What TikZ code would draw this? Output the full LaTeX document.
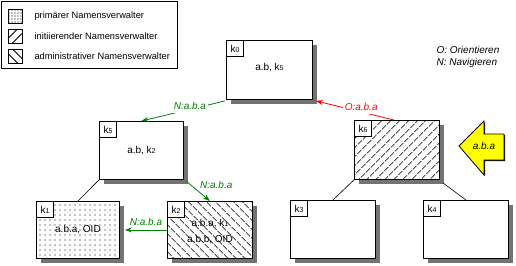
\documentclass[tikz,border=0pt]{standalone}
\usepackage{fontspec}
\setmainfont{Liberation Sans}
\usetikzlibrary{patterns.meta,shadows,arrows.meta,calc}
\definecolor{grn}{RGB}{0,128,0}
\definecolor{rd}{RGB}{255,0,0}
\definecolor{yel}{RGB}{255,255,0}
\newcommand\kk[1]{k{\fontsize{7}{7}\selectfont #1}}
\begin{document}
\begin{tikzpicture}[x=1pt,y=-1pt,
 every node/.style={font=\fontsize{10}{12}\selectfont},
 kbox/.style={draw,line width=0.9pt,anchor=north west,inner sep=0pt,
   drop shadow={shadow xshift=5pt,shadow yshift=-5pt,opacity=1,fill=black!55},
   preaction={fill=white}},
 tag/.style={draw,line width=0.9pt,anchor=north west,minimum width=17pt,minimum height=16pt,inner sep=0pt,fill=white},
 tree/.style={line width=0.6pt},
 narr/.style={grn,line width=0.8pt,-{Stealth[length=7pt,width=5pt]}},
 rarr/.style={rd,line width=0.8pt,-{Stealth[length=7pt,width=5pt]}},
 lab/.style={font=\fontsize{10}{12}\selectfont\itshape,inner xsep=2pt,inner ysep=3pt},
 icon/.style={draw,line width=0.8pt,anchor=north west,minimum size=14pt,inner sep=0pt},
 legtext/.style={anchor=west,font=\fontsize{9.3}{11}\selectfont},
]
\useasboundingbox (0,0) rectangle (516,265);

% legend
\node[draw,line width=0.9pt,anchor=north west,minimum width=176pt,minimum height=67pt,inner sep=0pt] (leg) at (1,1) {};
\node[icon,pattern={Dots[distance=3pt,radius=0.6pt]},pattern color=black] (i1) at (8,9) {};
\node[icon] (i2) at (8,29) {};
\node[icon] (i3) at (8,49) {};
\draw[line width=0.8pt] (8,38.5) -- (17.5,29) (12.5,43) -- (22,33.5);
\draw[line width=0.8pt] (8,53.5) -- (17.5,63) (12.5,49) -- (22,58.5);
\node[legtext] (t1) at (31,16) {primärer Namensverwalter};
\node[legtext] (t2) at (31,36) {initiierender Namensverwalter};
\node[legtext] (t3) at (31,56) {administrativer Namensverwalter};

\node[anchor=west,font=\fontsize{10}{12}\selectfont\itshape] (oo) at (433,50) {O: Orientieren};
\node[anchor=west,font=\fontsize{10}{12}\selectfont\itshape] (nn) at (433,63) {N: Navigieren};

% boxes
\node[kbox,minimum width=86pt,minimum height=59pt] (k0) at (226,40) {};
\node[kbox,minimum width=84pt,minimum height=58pt] (k5) at (99,121) {};
\node[kbox,minimum width=85pt,minimum height=59pt,pattern color=black,pattern={Lines[angle=45,distance=6.4pt,line width=0.9pt]}] (k6) at (354,120) {};
\node[kbox,minimum width=83pt,minimum height=57pt,pattern color=black,pattern={Dots[distance=5pt,radius=0.7pt]}] (k1) at (36,201) {};
\node[kbox,minimum width=85pt,minimum height=57pt,pattern color=black,pattern={Lines[angle=-45,distance=6.4pt,line width=0.9pt]}] (k2) at (167,201) {};
\node[kbox,minimum width=85pt,minimum height=58pt] (k3) at (290,200) {};
\node[kbox,minimum width=85pt,minimum height=58pt] (k4) at (423,200) {};

\node[tag] (k0l) at (k0.north west) {\kk0};
\node[tag] (k5l) at (k5.north west) {\kk5};
\node[tag] (k6l) at (k6.north west) {\kk6};
\node[tag] (k1l) at (k1.north west) {\kk1};
\node[tag] (k2l) at (k2.north west) {\kk2};
\node[tag] (k3l) at (k3.north west) {\kk3};
\node[tag] (k4l) at (k4.north west) {\kk4};

\node (k0t) at ($(k0.center)+(0,-2)$) {a.b, \kk5};
\node (k5t) at (k5.center) {a.b, \kk2};
\node (k1t) at (k1.center) {a.b.a, OID};
\node[align=center,font=\fontsize{10}{16}\selectfont] (k2t) at ($(k2.center)+(0,1.5)$) {a.b.a, \kk1\\a.b.b, OID};

% yellow arrow
\fill[black] (460,147) -- (485,122) -- (485,135) -- (505,135) -- (505,161) -- (485,161) -- (485,176) -- cycle;
\filldraw[fill=yel,line width=0.8pt,line join=miter] (459,146) -- (484,121) -- (484,134) -- (504,134) -- (504,160) -- (484,160) -- (484,175) -- cycle;
\node[font=\fontsize{10}{12}\selectfont\itshape] (ya) at (484,146) {a.b.a};

% tree lines
\draw[tree] (k5.south west) -- (k1.north);
\draw[tree] (k6.south west) -- (k3.north);
\draw[tree] ($(k6.south east)+(3,3)$) -- (k4.north);

% navigation arrows
\draw[narr] ($(k0.south west)+(-1,1)$) -- node[lab,text=grn,fill=white,pos=0.42,yshift=3pt] (n1) {N:a.b.a} (k5.north);
\draw[rarr] ($(k6.north)+(-3,0)$) -- node[lab,text=rd,fill=white,pos=0.42,yshift=5pt] (o1) {O:a.b.a} ($(k0.south east)+(3,1)$);
\draw[narr] ($(k5.south east)+(2,1)$) -- node[lab,text=grn,pos=0.2,right=7pt] (n2) {N:a.b.a} (k2.north);
\draw[narr] (k2.west) -- node[lab,text=grn,midway,above=1pt] (n3) {N:a.b.a} ($(k1.east)+(5,0)$);
\end{tikzpicture}
\end{document}
